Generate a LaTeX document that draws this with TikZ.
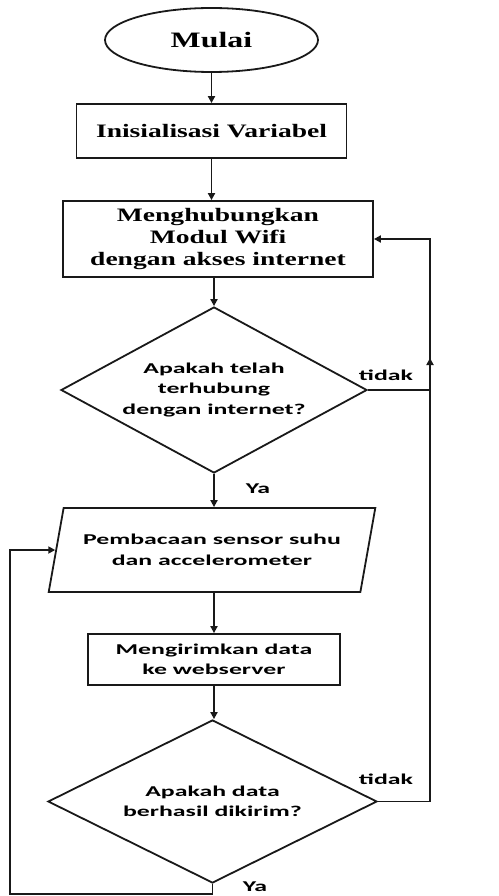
\documentclass[tikz,border=0pt]{standalone}
\usepackage{fontspec}
\setmainfont{Liberation Serif}
\newfontfamily\serifw[FakeStretch=1.45]{Liberation Serif}
\newfontfamily\sansw[FakeStretch=1.72]{Carlito}
\usetikzlibrary{shapes.geometric,arrows.meta}
\begin{document}
\begin{tikzpicture}[x=1pt,y=-1pt,
  every node/.style={inner sep=0pt},
  ln/.style={line width=1.8pt, draw=black!90},
  arr/.style={ln, -{Triangle[length=7pt,width=7pt]}},
  serift/.style={font=\serifw\bfseries\fontsize{19}{22}\selectfont, align=center},
  sanst/.style={font=\sansw\bfseries\fontsize{15}{20.5}\selectfont, align=center},
  proc/.style={rectangle, draw, ln},
  dec/.style={diamond, draw, ln, sanst},
  iobox/.style={trapezium, trapezium left angle=67.4, trapezium right angle=112.6,
     trapezium stretches=true, draw, ln, sanst},
  lbl/.style={font=\sansw\bfseries\fontsize{15}{18}\selectfont}
]
\useasboundingbox (0,0) rectangle (498,896);

\node[ellipse, draw, ln, minimum width=213pt, minimum height=64pt,
      font=\serifw\bfseries\fontsize{22}{26}\selectfont] (start) at (211.5,40) {Mulai};
\node[proc, serift, minimum width=270pt, minimum height=54pt] (init) at (211.5,131) {Inisialisasi Variabel};
\node[proc, serift, minimum width=310pt, minimum height=76pt] (wifi) at (218,239) {Menghubungkan\\Modul Wifi\\dengan akses internet};
\node[dec, minimum width=306pt, minimum height=166pt, shape aspect=1.84] (d1) at (214,390) {Apakah telah\\terhubung\\dengan internet?};
\node[iobox, minimum width=328pt, minimum height=84pt] (read) at (212,550) {Pembacaan sensor suhu\\dan accelerometer};
\node[proc, sanst, minimum width=252pt, minimum height=51pt] (send) at (214,659.5) {Mengirimkan data\\ke webserver};
\node[dec, minimum width=329pt, minimum height=163pt, shape aspect=2.02] (d2) at (212.5,801.5) {Apakah data\\berhasil dikirim?};

\node[lbl] (t1) at (386,375) {tidak};
\node[lbl] (t2) at (386,779) {tidak};
\node[lbl] (y1) at (258,489) {Ya};
\node[lbl] (y2) at (255,887) {Ya};

\coordinate (rx) at (430,0);
\coordinate (lx) at (10,894);

\draw[arr] (start.south) -- (start.south |- init.north);
\draw[arr] (init.south) -- (init.south |- wifi.north);
\draw[arr] (wifi.south -| d1.north) -- (d1.north);
\draw[arr] (d1.south) -- (d1.south |- read.north);
\draw[arr] (read.south -| send.north) -- (send.north);
\draw[arr] (send.south) -- (send.south |- d2.north);

\draw[ln] (d1.east) -- (d1.east -| rx);
\draw[arr] (d1.east -| rx) -- ++(0,-32);
\draw[arr] (d2.east) -- (d2.east -| rx) -- (wifi.east -| rx) -- (wifi.east);

\draw[arr] (d2.south) -- (d2.south |- lx) -- (lx) -- (lx |- read.west) -- (read.west);
\end{tikzpicture}
\end{document}
